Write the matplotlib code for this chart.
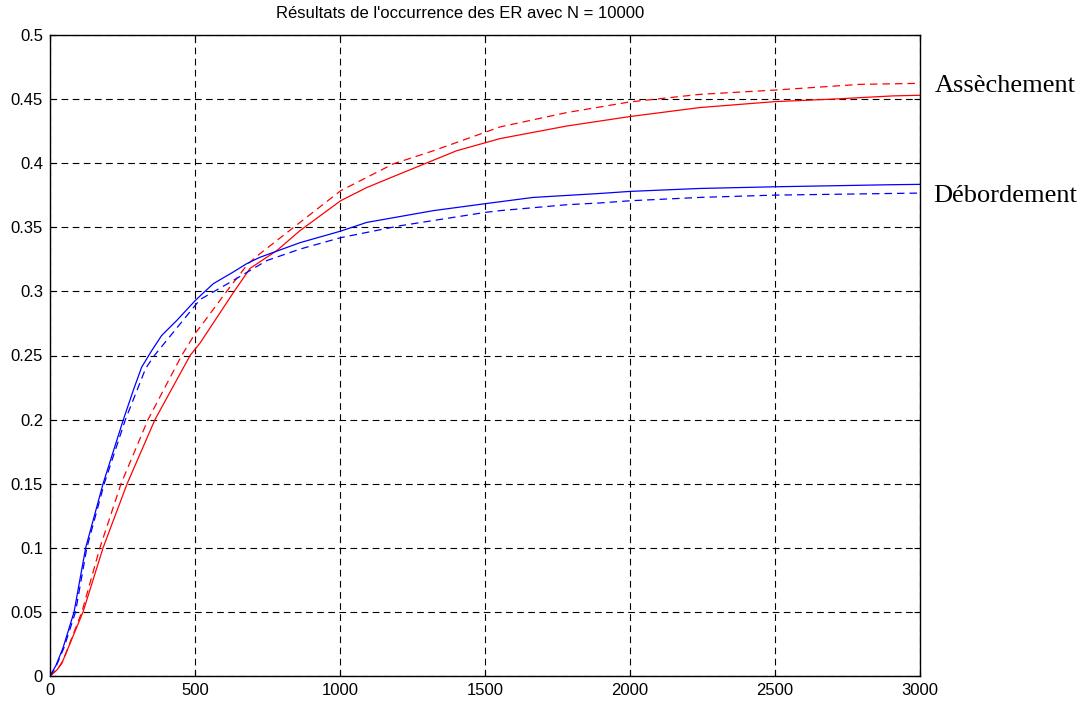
#!/usr/bin/env python3

import numpy as np
from matplotlib import pyplot as plt

# Débordement (blue)
deb_sim_x = [0, 20, 45, 83, 123, 183, 253, 287, 316, 351, 385, 437, 503, 563, 631, 678, 724,
             862, 1002, 1092, 1322, 1500, 1666, 1897, 2000, 2241, 2497, 2897, 3000]
deb_sim_y = [0, 0.008, 0.022, 0.05, 0.1, 0.15, 0.2, 0.2227, 0.2409, 0.2539, 0.2656, 0.2773,
             0.2934, 0.306, 0.315, 0.3216, 0.3266, 0.338, 0.347, 0.3538, 0.363, 0.3684,
             0.3733, 0.3764, 0.378, 0.3803, 0.3816, 0.3832, 0.3835]
deb_th_x = [0, 20, 48, 88, 127, 187, 260, 330, 360, 450, 517, 631, 747, 862, 1002, 1207,
            1500, 1552, 1782, 1897, 2000, 2241, 2497, 3000]
deb_th_y = [0, 0.007, 0.022, 0.05, 0.1, 0.15, 0.2, 0.24, 0.25, 0.275, 0.2936, 0.3084, 0.324,
            0.333, 0.3419, 0.3512, 0.3616, 0.363, 0.3676, 0.369, 0.3707, 0.3733, 0.3751, 0.3767]

# Assèchement (red)
ass_sim_x = [0, 25, 41, 114, 183, 266, 362, 483, 517, 635, 690, 782, 862, 1002, 1092, 1207,
             1402, 1552, 1782, 2000, 2241, 2497, 2700, 2907, 3000]
ass_sim_y = [0, 0.005, 0.01, 0.05, 0.1, 0.15, 0.2, 0.25, 0.2596, 0.3, 0.318, 0.3318, 0.3474,
             0.3707, 0.381, 0.3917, 0.4097, 0.4192, 0.429, 0.4364, 0.4434, 0.448, 0.45,
             0.4525, 0.453]
ass_th_x = [0, 25, 45, 110, 172, 245, 338, 454, 503, 517, 609, 683, 724, 862, 1002, 1184,
            1322, 1552, 1782, 2000, 2241, 2497, 2793, 3000]
ass_th_y = [0, 0.005, 0.012, 0.05, 0.1, 0.15, 0.2, 0.25, 0.268, 0.272, 0.3, 0.3216, 0.3294,
            0.3538, 0.3785, 0.3995, 0.4097, 0.4283, 0.4395, 0.4478, 0.4537, 0.457, 0.4615,
            0.4623]

YLABELS = ['0', '0.05', '0.1', '0.15', '0.2', '0.25', '0.3', '0.35', '0.4', '0.45', '0.5']

def main():
  plt.rcParams['font.family'] = ['Liberation Sans', 'DejaVu Sans']
  fig = plt.figure(figsize=(10.88, 7.01), dpi=100)
  ax = fig.add_axes([50 / 1088, 1 - 676 / 701, 870 / 1088, 641 / 701])

  dash = (0, (6, 4))
  ax.plot(ass_th_x, ass_th_y, color='red', lw=0.9, linestyle=dash)
  ax.plot(ass_sim_x, ass_sim_y, color='red', lw=0.9)
  ax.plot(deb_th_x, deb_th_y, color='blue', lw=0.9, linestyle=dash)
  ax.plot(deb_sim_x, deb_sim_y, color='blue', lw=0.9)

  ax.set_xlim(0, 3000)
  ax.set_ylim(0, 0.5)
  ax.set_xticks(np.arange(0, 3001, 500))
  ax.set_yticks(np.arange(0, 0.501, 0.05))
  ax.set_yticklabels(YLABELS)
  ax.grid(True, color='black', linestyle=(0, (6, 4)), lw=0.8)
  ax.tick_params(direction='in', length=4, labelsize=12, top=True, right=True,
                 labeltop=False, labelright=False)
  ax.tick_params(axis='y', pad=5)
  ax.tick_params(axis='x', pad=5)
  for s in ax.spines.values():
    s.set_linewidth(1.0)

  fig.text(460 / 1088, 1 - 13 / 701, "Résultats de l'occurrence des ER avec N = 10000",
           fontsize=12, ha='center', va='center')

  ax.text(3052, 0.4603, 'Assèchement', family='Liberation Serif', fontsize=19,
          va='center', ha='left', clip_on=False)
  ax.text(3045, 0.3746, 'Débordement', family='Liberation Serif', fontsize=19,
          va='center', ha='left', clip_on=False)

  fig.savefig('out.png', dpi=100)

if __name__ == "__main__":
  main()
